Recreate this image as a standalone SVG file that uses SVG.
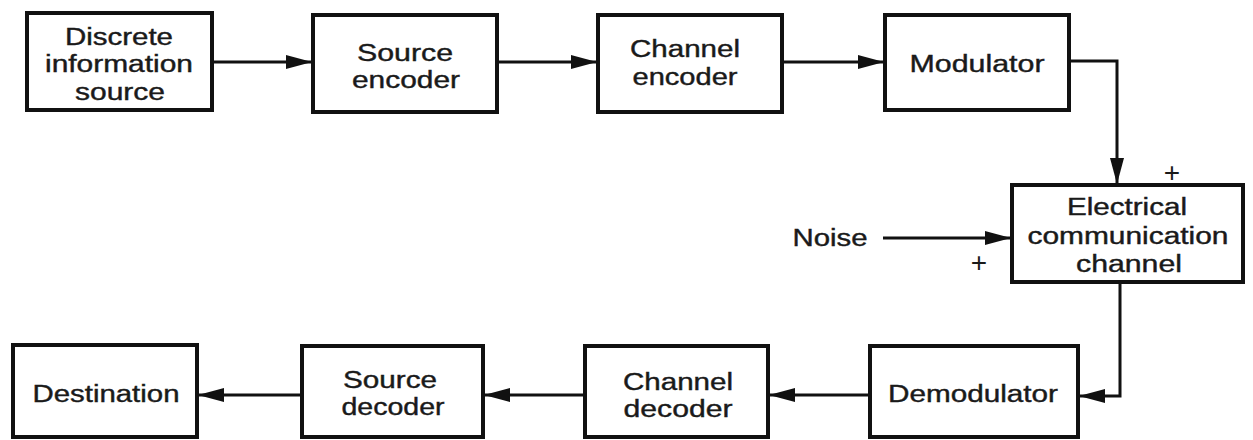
<svg xmlns="http://www.w3.org/2000/svg" width="1253" height="440" viewBox="0 0 1253 440">
<defs>
<style>
.box{fill:#fff;stroke:#111;stroke-width:4}
.t{font-family:"Liberation Sans",Arial,sans-serif;font-size:23px;fill:#1a1a1a;text-anchor:middle;stroke:#1a1a1a;stroke-width:0.4}
.p{font-family:"Liberation Sans",Arial,sans-serif;font-size:28px;fill:#1a1a1a;text-anchor:middle}
.ln{fill:none;stroke:#111;stroke-width:3}
</style>
<marker id="ah" viewBox="0 0 26 14" refX="26" refY="7" markerWidth="26" markerHeight="14" markerUnits="userSpaceOnUse" orient="auto">
<path d="M0,0 L26,7 L0,14 Z" fill="#111"/>
</marker>
</defs>
<rect width="1253" height="440" fill="#fff"/>
<g id="connectors">
<line class="ln" x1="212" y1="62" x2="312" y2="62" marker-end="url(#ah)"/>
<line class="ln" x1="497" y1="62" x2="597" y2="62" marker-end="url(#ah)"/>
<line class="ln" x1="782" y1="62" x2="884" y2="62" marker-end="url(#ah)"/>
<polyline class="ln" points="1069,61 1117,61 1117,184" marker-end="url(#ah)"/>
<line class="ln" x1="883" y1="238" x2="1011" y2="238" marker-end="url(#ah)"/>
<polyline class="ln" points="1120,282 1120,396 1079,396" marker-end="url(#ah)"/>
<line class="ln" x1="870" y1="395" x2="769" y2="395" marker-end="url(#ah)"/>
<line class="ln" x1="585" y1="395" x2="484" y2="395" marker-end="url(#ah)"/>
<line class="ln" x1="302" y1="395" x2="198" y2="395" marker-end="url(#ah)"/>
</g>
<g id="discrete-source">
<rect class="box" x="27" y="13" width="185" height="97"/>
<text class="t" x="119" y="45" textLength="108" lengthAdjust="spacingAndGlyphs">Discrete</text>
<text class="t" x="119" y="72" textLength="148" lengthAdjust="spacingAndGlyphs">information</text>
<text class="t" x="120" y="100" textLength="90" lengthAdjust="spacingAndGlyphs">source</text>
</g>
<g id="source-encoder">
<rect class="box" x="313" y="15" width="184" height="97"/>
<text class="t" x="405" y="61" textLength="96" lengthAdjust="spacingAndGlyphs">Source</text>
<text class="t" x="406" y="88" textLength="108" lengthAdjust="spacingAndGlyphs">encoder</text>
</g>
<g id="channel-encoder">
<rect class="box" x="598" y="15" width="184" height="97"/>
<text class="t" x="685" y="57" textLength="110" lengthAdjust="spacingAndGlyphs">Channel</text>
<text class="t" x="685" y="85" textLength="105" lengthAdjust="spacingAndGlyphs">encoder</text>
</g>
<g id="modulator">
<rect class="box" x="885" y="15" width="184" height="95"/>
<text class="t" x="977" y="72" textLength="135" lengthAdjust="spacingAndGlyphs">Modulator</text>
</g>
<g id="channel">
<rect class="box" x="1012" y="185" width="231" height="97"/>
<text class="t" x="1127" y="215" textLength="120" lengthAdjust="spacingAndGlyphs">Electrical</text>
<text class="t" x="1128" y="244" textLength="201" lengthAdjust="spacingAndGlyphs">communication</text>
<text class="t" x="1129" y="272" textLength="106" lengthAdjust="spacingAndGlyphs">channel</text>
</g>
<g id="noise">
<text class="t" x="830" y="246" textLength="75" lengthAdjust="spacingAndGlyphs">Noise</text>
</g>
<g id="plus-signs">
<text class="p" x="1172" y="182">+</text>
<text class="p" x="979" y="272">+</text>
</g>
<g id="destination">
<rect class="box" x="13" y="345" width="184" height="92"/>
<text class="t" x="106" y="402" textLength="147" lengthAdjust="spacingAndGlyphs">Destination</text>
</g>
<g id="source-decoder">
<rect class="box" x="302" y="346" width="181" height="91"/>
<text class="t" x="390" y="388" textLength="94" lengthAdjust="spacingAndGlyphs">Source</text>
<text class="t" x="393" y="415" textLength="103" lengthAdjust="spacingAndGlyphs">decoder</text>
</g>
<g id="channel-decoder">
<rect class="box" x="585" y="346" width="183" height="91"/>
<text class="t" x="678" y="390" textLength="110" lengthAdjust="spacingAndGlyphs">Channel</text>
<text class="t" x="678" y="417" textLength="109" lengthAdjust="spacingAndGlyphs">decoder</text>
</g>
<g id="demodulator">
<rect class="box" x="870" y="346" width="208" height="91"/>
<text class="t" x="973" y="402" textLength="170" lengthAdjust="spacingAndGlyphs">Demodulator</text>
</g>
</svg>
